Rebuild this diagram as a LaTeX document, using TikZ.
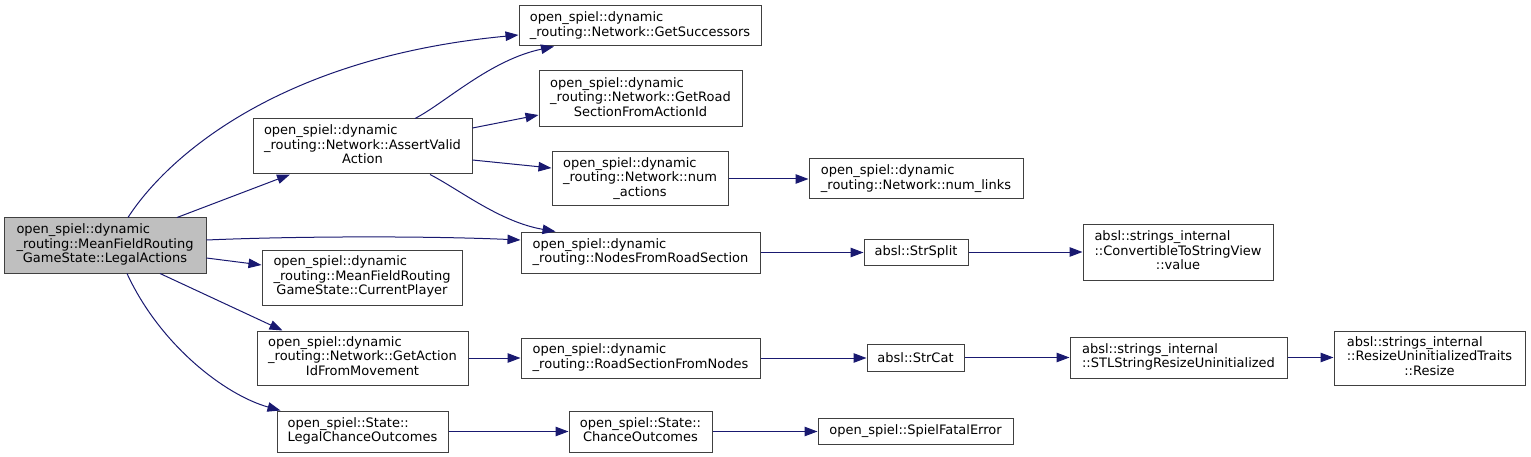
\documentclass[tikz,border=0pt]{standalone}
\usepackage{fontspec}
\setmainfont{DejaVu Sans}
\usetikzlibrary{arrows.meta}
\definecolor{edgeblue}{HTML}{191970}
\definecolor{boxgray}{HTML}{404040}
\definecolor{rootfill}{HTML}{BFBFBF}
\newcommand\lbl[2]{\begin{tabular}{@{}l@{}}#1\\\multicolumn{1}{@{}c@{}}{#2}\end{tabular}}
\begin{document}
\begin{tikzpicture}[x=1pt,y=-1pt,
  box/.style={draw=boxgray, line width=1pt, fill=white, inner sep=0pt, text=black,
    font=\fontsize{13}{14.5}\selectfont},
  rootbox/.style={box, fill=rootfill},
  edge/.style={draw=edgeblue, line width=1pt, -{Triangle[length=13pt,width=9.5pt]}, fill=none}]
\useasboundingbox (0,0) rectangle (1531,457);
% column 0
\node[rootbox, minimum width=202pt, minimum height=55pt] (root) at (105,245.5)
  {\lbl{open\_spiel::dynamic\\\_routing::MeanFieldRouting}{GameState::LegalActions}};
% column 1
\node[box, minimum width=219pt, minimum height=55pt] (AV) at (362.5,146.5)
  {\lbl{open\_spiel::dynamic\\\_routing::Network::AssertValid}{Action}};
\node[box, minimum width=200pt, minimum height=55pt] (CP) at (362,277.5)
  {\lbl{open\_spiel::dynamic\\\_routing::MeanFieldRouting}{GameState::CurrentPlayer}};
\node[box, minimum width=211pt, minimum height=54pt] (GA) at (362.5,358)
  {\lbl{open\_spiel::dynamic\\\_routing::Network::GetAction}{IdFromMovement}};
\node[box, minimum width=171pt, minimum height=41pt] (LCO) at (362.5,431.5)
  {\lbl{open\_spiel::State::}{LegalChanceOutcomes}};
% column 2
\node[box, minimum width=242pt, minimum height=40pt] (GS) at (640,26)
  {\lbl{open\_spiel::dynamic}{\_routing::Network::GetSuccessors}};
\node[box, minimum width=203pt, minimum height=56pt] (GR) at (640.5,99)
  {\lbl{open\_spiel::dynamic\\\_routing::Network::GetRoad}{SectionFromActionId}};
\node[box, minimum width=176pt, minimum height=54pt] (NA) at (640,179)
  {\lbl{open\_spiel::dynamic\\\_routing::Network::num}{\_actions}};
\node[box, minimum width=239pt, minimum height=41pt] (NR) at (640.5,252.5)
  {\lbl{open\_spiel::dynamic}{\_routing::NodesFromRoadSection}};
\node[box, minimum width=239pt, minimum height=40pt] (RN) at (640.5,358)
  {\lbl{open\_spiel::dynamic}{\_routing::RoadSectionFromNodes}};
\node[box, minimum width=143pt, minimum height=41pt] (CO) at (640.5,431.5)
  {\lbl{open\_spiel::State::}{ChanceOutcomes}};
% column 3
\node[box, minimum width=214pt, minimum height=40pt] (NL) at (916,179)
  {\lbl{open\_spiel::dynamic}{\_routing::Network::num\_links}};
\node[box, minimum width=104pt, minimum height=26pt] (SS) at (916,252)
  {absl::StrSplit};
\node[box, minimum width=97pt, minimum height=27pt] (SC) at (915.5,357.5)
  {absl::StrCat};
\node[box, minimum width=195pt, minimum height=26pt] (SF) at (915.5,431)
  {open\_spiel::SpielFatalError};
% column 4
\node[box, minimum width=190pt, minimum height=55pt] (CV) at (1178,252.5)
  {\lbl{absl::strings\_internal\\::ConvertibleToStringView}{::value}};
\node[box, minimum width=217pt, minimum height=41pt] (ST) at (1178.5,357.5)
  {\lbl{absl::strings\_internal}{::STLStringResizeUninitialized}};
% column 5
\node[box, minimum width=191pt, minimum height=54pt] (RT) at (1429.5,358)
  {\lbl{absl::strings\_internal\\::ResizeUninitializedTraits}{::Resize}};
% edges
\draw[edge] ([xshift=23pt]root.north) .. controls (165,160) and (275,58) .. ([yshift=-9pt]GS.west);
\draw[edge] ([xshift=72pt]root.north) -- ([xshift=-72.5pt]AV.south);
\draw[edge] ([yshift=5.5pt]root.east) .. controls (300,236) and (430,236) .. ([yshift=12.5pt]NR.west);
\draw[edge] ([yshift=-12.5pt]root.east) -- ([yshift=12.5pt]CP.west);
\draw[edge] ([xshift=55pt]root.south) -- ([xshift=-80pt]GA.north);
\draw[edge] ([xshift=22pt]root.south) .. controls (160,345) and (225,395) .. ([xshift=-82pt]LCO.north);
\draw[edge] ([xshift=52.5pt]AV.north) .. controls (445,103) and (490,60) .. ([xshift=-86pt]GS.south);
\draw[edge] ([yshift=18.5pt]AV.east) -- ([yshift=-16pt]GR.west);
\draw[edge] ([yshift=-13.5pt]AV.east) -- ([yshift=11pt]NA.west);
\draw[edge] ([xshift=67.5pt]AV.south) .. controls (460,190) and (500,222) .. ([xshift=-85pt]NR.north);
\draw[edge] (NA.east) -- (NA.east -| NL.west);
\draw[edge] (NR.east) -- (NR.east -| SS.west);
\draw[edge] (SS.east) -- (SS.east -| CV.west);
\draw[edge] (GA.east) -- (GA.east -| RN.west);
\draw[edge] (RN.east) -- (RN.east -| SC.west);
\draw[edge] (SC.east) -- (SC.east -| ST.west);
\draw[edge] (ST.east) -- (ST.east -| RT.west);
\draw[edge] (LCO.east) -- (LCO.east -| CO.west);
\draw[edge] (CO.east) -- (CO.east -| SF.west);
\end{tikzpicture}
\end{document}
